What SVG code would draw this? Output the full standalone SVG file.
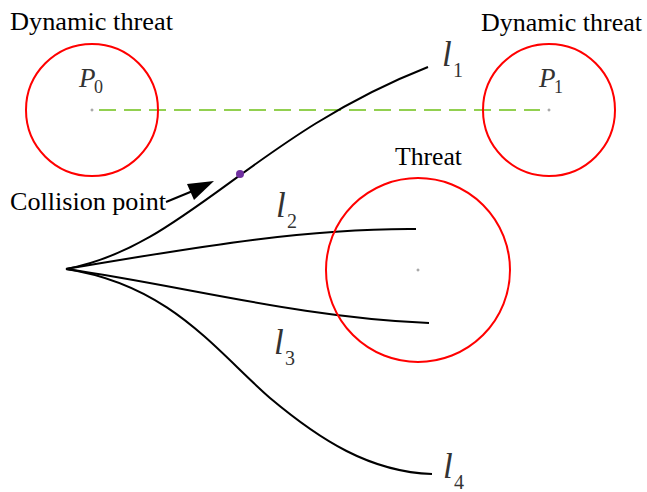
<svg xmlns="http://www.w3.org/2000/svg" width="647" height="492" viewBox="0 0 647 492">
<defs>
<style>
.zone{fill:none;stroke:#ff0000;stroke-width:2}
.ctr{fill:none;stroke:#777;stroke-width:0.8}
.path{fill:none;stroke:#000;stroke-width:2}
.lbl{font-family:"Liberation Serif","Times New Roman",serif;font-size:25px;fill:#000}
.sym{font-family:"Liberation Serif","Times New Roman",serif;font-style:italic;fill:#333}
.sub{font-family:"Liberation Serif","Times New Roman",serif;fill:#333}
</style>
</defs>
<rect width="647" height="492" fill="#fff"/>

<g id="connectors">
<line x1="99" y1="110" x2="540" y2="110" stroke="#92d050" stroke-width="2" stroke-dasharray="17,8"/>
<path class="path" d="M66,269 C185,247 252,136 428,67"/>
<path class="path" d="M66,269 C180,250 300,228 416,229"/>
<path class="path" d="M66,269 C180,285 300,318 429,323"/>
<path class="path" d="M66,269 C170,285 215,350 270,398 C320,440 370,472 432,474"/>
<line x1="166" y1="202" x2="200" y2="188" stroke="#000" stroke-width="2"/>
<path d="M214,181 L187,184 L194,200 Z" fill="#000"/>
</g>

<g id="threat-p0">
<circle class="zone" cx="92" cy="110" r="66"/>
<circle class="ctr" cx="92" cy="110" r="1"/>
<text class="lbl" x="10" y="30" textLength="163" lengthAdjust="spacingAndGlyphs">Dynamic threat</text>
<text class="sym" x="79" y="87" font-size="27">P</text>
<text class="sub" x="94" y="93" font-size="18">0</text>
</g>

<g id="threat-p1">
<circle class="zone" cx="549" cy="110" r="66"/>
<circle class="ctr" cx="549" cy="110" r="1"/>
<text class="lbl" x="481" y="31" textLength="161" lengthAdjust="spacingAndGlyphs">Dynamic threat</text>
<text class="sym" x="539" y="87" font-size="27">P</text>
<text class="sub" x="554" y="93" font-size="18">1</text>
</g>

<g id="threat-static">
<circle class="zone" cx="418" cy="270" r="92"/>
<circle class="ctr" cx="418" cy="270" r="1"/>
<text class="lbl" x="395" y="165" textLength="67" lengthAdjust="spacingAndGlyphs">Threat</text>
</g>

<g id="collision">
<circle cx="240" cy="174" r="4" fill="#7030a0"/>
<text class="lbl" x="10" y="210" textLength="156" lengthAdjust="spacingAndGlyphs">Collision point</text>
</g>

<g id="l1"><text class="sym" x="442" y="66" font-size="35">l</text><text class="sub" x="453" y="77" font-size="20">1</text></g>
<g id="l2"><text class="sym" x="276" y="217" font-size="35">l</text><text class="sub" x="287" y="228" font-size="20">2</text></g>
<g id="l3"><text class="sym" x="274" y="354" font-size="35">l</text><text class="sub" x="285" y="365" font-size="20">3</text></g>
<g id="l4"><text class="sym" x="443" y="478" font-size="35">l</text><text class="sub" x="454" y="489" font-size="20">4</text></g>
</svg>
